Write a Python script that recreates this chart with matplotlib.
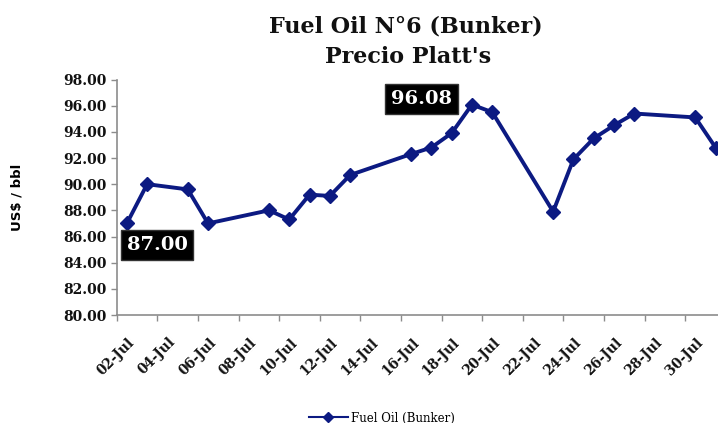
import matplotlib
matplotlib.use("Agg")
import matplotlib.pyplot as plt
from matplotlib.lines import Line2D

days = [2, 3, 5, 6, 9, 10, 11, 12, 13, 16, 17, 18, 19, 20, 23, 24, 25, 26, 27, 30, 31]
prices = [87.00, 90.0, 89.6, 87.0, 88.0, 87.3, 89.2, 89.1, 90.7, 92.3, 92.8, 93.9,
          96.08, 95.5, 87.9, 91.9, 93.5, 94.5, 95.4, 95.1, 92.8]
tick_days = list(range(2, 31, 2))
tick_labels = [f"{d:02d}-Jul" for d in tick_days]
yticks = [80 + 2 * i for i in range(10)]
series_name = "Fuel Oil (Bunker)"

W, H = 718, 423
fig = plt.figure(figsize=(W / 100, H / 100), dpi=100)
left, right, top, bottom = 116.7, 725.7, 79.5, 315.0
ax = fig.add_axes([left / W, 1 - bottom / H, (right - left) / W, (bottom - top) / H])

navy = "#0c1a82"
ax.plot(days, prices, color=navy, lw=2.8, marker="D", ms=7.5, mfc=navy, mec=navy,
        solid_joinstyle="round", clip_on=False, zorder=3)

ax.set_xlim(1.5, 31.5)
ax.set_ylim(80, 98)
ax.set_yticks(yticks)
ax.set_yticklabels([f"{v:.2f}" for v in yticks], family="DejaVu Serif",
                   fontweight="bold", fontsize=10, color="#111111")
ax.set_xticks([1.5 + 2 * k for k in range(16)])
ax.set_xticklabels([])
ax.tick_params(axis="both", direction="out", length=4, color="#8c8c8c", width=1)
ax.tick_params(axis="y", pad=3)
for d, lab in zip(tick_days, tick_labels):
    ax.annotate(lab, xy=(d, 80), xycoords="data", xytext=(4, -18),
                textcoords="offset points", rotation=45, rotation_mode="anchor",
                ha="right", va="center", family="DejaVu Serif", fontweight="bold",
                fontsize=9.8, color="#111111", annotation_clip=False)

for s in ["top", "right"]:
    ax.spines[s].set_visible(False)
for s in ["left", "bottom"]:
    ax.spines[s].set_color("#8c8c8c")
    ax.spines[s].set_linewidth(1.2)

ax.set_ylabel("US$ / bbl", family="DejaVu Sans", fontweight="bold", fontsize=9.5)
ax.yaxis.set_label_coords((24 - left) / (right - left), 0.5)

box = dict(boxstyle="square,pad=0.3", fc="black", ec="#333333")
i0 = prices.index(87.00)
ax.annotate(f"{prices[i0]:.2f}", xy=(days[i0], prices[i0]), xytext=(21.8, -15.6),
            textcoords="offset points", ha="center", va="center", color="white",
            family="DejaVu Serif", fontweight="bold", fontsize=14, bbox=box)
imax = prices.index(max(prices))
ax.annotate(f"{prices[imax]:.2f}", xy=(days[imax], prices[imax]), xytext=(-36.5, 4.1),
            textcoords="offset points", ha="center", va="center", color="white",
            family="DejaVu Serif", fontweight="bold", fontsize=14, bbox=box)

fig.text(406 / W, 1 - 27 / H, "Fuel Oil N°6 (Bunker)", ha="center", va="center",
         family="DejaVu Serif", fontweight="bold", fontsize=16, color="#111111")
fig.text(408 / W, 1 - 57 / H, "Precio Platt's", ha="center", va="center",
         family="DejaVu Serif", fontweight="bold", fontsize=16, color="#111111")

handle = Line2D([], [], color=navy, lw=1.5, marker="D", ms=5, mfc=navy, mec=navy)
fig.legend([handle], [series_name], loc="center", bbox_to_anchor=(382 / W, 1 - 418 / H),
           frameon=False, prop=dict(family="DejaVu Serif", size=8.5), handlelength=3.3,
           handletextpad=0.3)

fig.savefig("out.png", dpi=100)
